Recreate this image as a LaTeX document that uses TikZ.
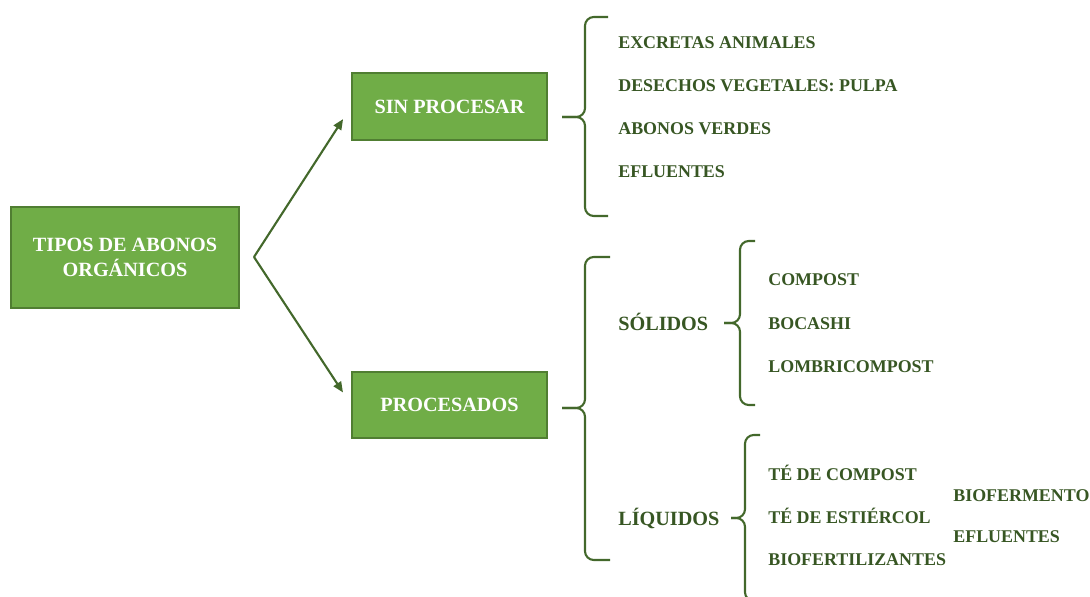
\documentclass[tikz,border=0pt]{standalone}
\usepackage{fontspec}
\setmainfont{Liberation Serif}
\usetikzlibrary{arrows.meta}
\definecolor{boxgreen}{HTML}{70AD47}
\definecolor{boxedge}{HTML}{507E32}
\definecolor{textgreen}{HTML}{375623}
\definecolor{linegreen}{HTML}{43682B}
% brace: tip x, line x, hook x, top y, middle y, bottom y
\newcommand{\tikzBrace}[6]{
  \draw[bracket] (#3,#4) -- (#2,#4) -- (#2,#5) -- (#1,#5);
  \draw[bracket] (#3,#6) -- (#2,#6) -- (#2,#5) -- (#1,#5);
}

\begin{document}
\begin{tikzpicture}[x=0.02cm, y=-0.02cm,
  box/.style={draw=boxedge, line width=0.9pt, fill=boxgreen, text=white, align=center,
    font=\bfseries\fontsize{11.5}{14}\selectfont},
  item/.style={anchor=west, inner sep=0pt, text height=7pt, text depth=0pt, text=textgreen,
    font=\bfseries\fontsize{10.2}{12}\selectfont},
  group/.style={item, text height=8pt, font=\bfseries\fontsize{11.5}{14}\selectfont},
  bracket/.style={draw=linegreen, line width=1.2pt, rounded corners=5pt},
  arrowline/.style={draw=linegreen, line width=1.2pt, -{Triangle[length=6pt,width=5pt]}, shorten >=0.3cm}]
  \useasboundingbox (0,0) rectangle (1090,597);

  \node [box, minimum width=4.56cm, minimum height=2.02cm] (tipos) at (125,257.5) {TIPOS DE ABONOS\\ORGÁNICOS};
  \node [box, minimum width=3.9cm, minimum height=1.34cm] (sin) at (449.5,106.5) {SIN PROCESAR};
  \node [box, minimum width=3.9cm, minimum height=1.32cm] (proc) at (449.5,405) {PROCESADOS};

  \coordinate (fork) at (254,257);
  \path [arrowline] (fork) -- (sin.west);
  \path [arrowline] (fork) -- (proc.west);

  % sin procesar
  \tikzBrace{562}{585}{608}{17}{117}{216}
  \node [item] (s1) at (618,42) {EXCRETAS ANIMALES};
  \node [item] (s2) at (618,85) {DESECHOS VEGETALES: PULPA};
  \node [item] (s3) at (618,128) {ABONOS VERDES};
  \node [item] (s4) at (618,171) {EFLUENTES};

  % procesados
  \tikzBrace{562}{585}{610}{257}{408}{560}
  \node [group] (sol) at (618,323) {SÓLIDOS};
  \node [group] (liq) at (618,518) {LÍQUIDOS};

  \tikzBrace{724}{740}{755}{241}{323}{405}
  \node [item] (p1) at (768,279) {COMPOST};
  \node [item] (p2) at (768,323) {BOCASHI};
  \node [item] (p3) at (768,366) {LOMBRICOMPOST};

  \tikzBrace{731}{745}{760}{435}{518}{601}
  \node [item] (q1) at (768,474) {TÉ DE COMPOST};
  \node [item] (q2) at (768,517) {TÉ DE ESTIÉRCOL};
  \node [item] (q3) at (768,559) {BIOFERTILIZANTES};
  \node [item] (q4) at (953,495) {BIOFERMENTO};
  \node [item] (q5) at (953,536) {EFLUENTES};
\end{tikzpicture}
\end{document}
